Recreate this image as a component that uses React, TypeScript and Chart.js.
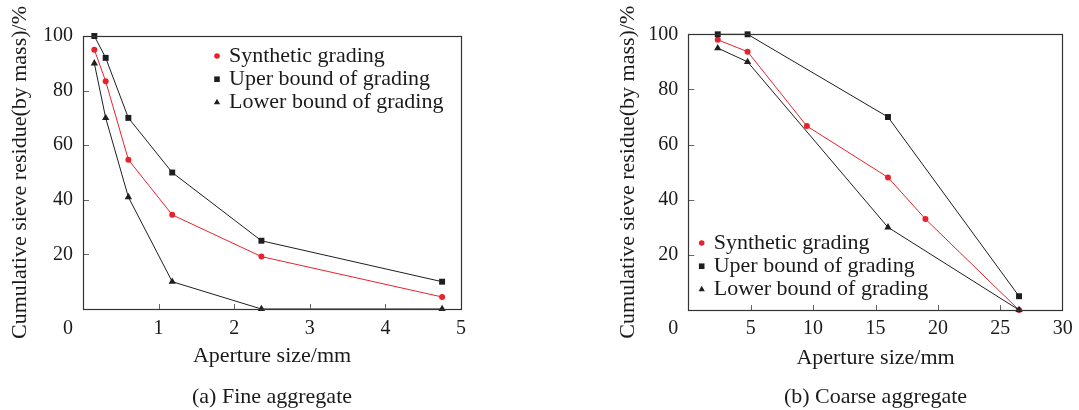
import React, { useEffect, useRef } from 'react';
import { Chart, registerables } from 'chart.js';

Chart.register(...registerables);

const FONT = '"Liberation Serif", "Times New Roman", Times, serif';
const RED = '#e8222c';
const BLACK = '#1e1e1e';
const TEXT = '#1a1a1a';

// ---- Fine aggregate ----
const fineSizes = [0.15, 0.3, 0.6, 1.18, 2.36, 4.75];
const fineSynthetic = [95, 83.4, 54.7, 34.5, 19.2, 4.4];
const fineUpper = [100, 92, 70, 50, 25, 10];
const fineLower = [90, 70, 41, 10, 0, 0];

// ---- Coarse aggregate ----
const coarseSyntheticSizes = [2.36, 4.75, 9.5, 16, 19, 26.5];
const coarseSynthetic = [98, 93.7, 66.7, 48.1, 33, 0];
const coarseBoundSizes = [2.36, 4.75, 16, 26.5];
const coarseUpper = [100, 100, 70, 5];
const coarseLower = [95, 90, 30, 0];

const legendLabels = ['Synthetic grading', 'Uper bound of grading', 'Lower bound of grading'];
const yTitle = 'Cumulative sieve residue(by mass)/%';
const xTitle = 'Aperture size/mm';

const pts = (xs: number[], ys: number[]) => xs.map((x, i) => ({ x, y: ys[i] }));

function drawShape(ctx: CanvasRenderingContext2D, style: string, x: number, y: number, r: number, color: string) {
  ctx.save();
  ctx.fillStyle = color;
  ctx.beginPath();
  if (style === 'circle') {
    ctx.arc(x, y, r, 0, Math.PI * 2);
  } else if (style === 'rect') {
    ctx.rect(x - r, y - r, 2 * r, 2 * r);
  } else {
    ctx.moveTo(x, y - r);
    ctx.lineTo(x + r * 0.866, y + r * 0.5);
    ctx.lineTo(x - r * 0.866, y + r * 0.5);
    ctx.closePath();
  }
  ctx.fill();
  ctx.restore();
}

const framePlugin = {
  id: 'frameDeco',
  afterDraw(chart: any, _args: any, opts: any) {
    const ctx: CanvasRenderingContext2D = chart.ctx;
    const { left, right, top, bottom } = chart.chartArea;
    const xs = chart.scales.x;
    const ys = chart.scales.y;
    ctx.save();
    // inward ticks
    ctx.strokeStyle = '#666';
    ctx.lineWidth = 1;
    ctx.beginPath();
    xs.ticks.forEach((t: any) => {
      if (t.value > xs.min && t.value < xs.max) {
        const px = Math.round(xs.getPixelForValue(t.value)) + 0.5;
        ctx.moveTo(px, bottom);
        ctx.lineTo(px, bottom - 5);
      }
    });
    ys.ticks.forEach((t: any) => {
      if (t.value > ys.min && t.value < ys.max) {
        const py = Math.round(ys.getPixelForValue(t.value)) + 0.5;
        ctx.moveTo(left, py);
        ctx.lineTo(left + 6, py);
      }
    });
    ctx.stroke();
    // frame
    ctx.strokeStyle = '#333';
    ctx.lineWidth = 1.2;
    ctx.strokeRect(Math.round(left) + 0.5, Math.round(top) + 0.5, Math.round(right - left), Math.round(bottom - top));
    // origin label
    ctx.fillStyle = TEXT;
    ctx.font = `20px ${FONT}`;
    ctx.textAlign = 'center';
    ctx.textBaseline = 'middle';
    ctx.fillText('0', left - 15, bottom + opts.zeroDy);
    // legend
    const styles = ['circle', 'rect', 'triangle'];
    const colors = [RED, BLACK, BLACK];
    const sizes = [2.8, 2.8, 3.6];
    ctx.font = `22px ${FONT}`;
    ctx.textAlign = 'left';
    styles.forEach((s, i) => {
      const mx = left + opts.lx;
      const my = top + opts.ly + i * 23.2;
      drawShape(ctx, s, mx, my, sizes[i], colors[i]);
      ctx.fillStyle = TEXT;
      ctx.fillText(legendLabels[i], mx + 12, my);
    });
    ctx.restore();
  },
};

function makeConfig(p: any) {
  const ds = (label: string, data: any[], color: string, style: string, radius: number) => ({
    label,
    data,
    showLine: true,
    borderColor: color,
    backgroundColor: color,
    borderWidth: 1,
    pointStyle: style,
    pointRadius: radius,
    pointBackgroundColor: color,
    pointBorderColor: color,
    pointBorderWidth: 0,
    clip: false,
    tension: 0,
  });
  return {
    type: 'scatter',
    data: {
      datasets: [
        ds(legendLabels[1], p.upper, BLACK, 'rect', 4.2),
        ds(legendLabels[2], p.lower, BLACK, 'triangle', 4.2),
        ds(legendLabels[0], p.synthetic, RED, 'circle', 3),
      ],
    },
    options: {
      responsive: false,
      animation: false,
      events: [],
      layout: { padding: { left: p.padLeft, right: p.padRight, top: p.padTop, bottom: 0 } },
      plugins: {
        legend: { display: false },
        tooltip: { enabled: false },
        title: {
          display: true,
          position: 'bottom',
          fullSize: false,
          text: p.caption,
          color: TEXT,
          font: { family: FONT, size: 22, weight: 'normal' },
          padding: 0,
        },
        frameDeco: { lx: p.lx, ly: p.ly, zeroDy: p.tickPad + 12 },
      },
      scales: {
        x: {
          type: 'linear',
          min: 0,
          max: p.xMax,
          ticks: {
            stepSize: p.xStep,
            color: TEXT,
            font: { family: FONT, size: 20 },
            padding: p.tickPad,
            maxRotation: 0,
            callback: (v: number) => (v === 0 ? '' : String(v)),
          },
          grid: { display: false, drawTicks: false, tickLength: 0 },
          border: { display: false },
          title: {
            display: true,
            text: xTitle,
            color: TEXT,
            font: { family: FONT, size: 22 },
            padding: { top: 0, bottom: p.xTitlePad },
          },
          afterFit: (s: any) => {
            s.height = p.xHeight;
          },
        },
        y: {
          type: 'linear',
          min: 0,
          max: 100,
          ticks: {
            stepSize: 20,
            color: TEXT,
            font: { family: FONT, size: 20 },
            padding: 10,
            callback: (v: number) => (v === 0 ? '' : String(v)),
          },
          grid: { display: false, drawTicks: false, tickLength: 0 },
          border: { display: false },
          title: {
            display: true,
            text: yTitle,
            color: TEXT,
            font: { family: FONT, size: 22 },
            padding: { top: p.yTitlePad, bottom: 0 },
          },
          afterFit: (s: any) => {
            s.width = 83;
          },
        },
      },
    },
    plugins: [framePlugin],
  };
}

function ChartCanvas({ cfg, left, width }: { cfg: any; left: number; width: number }) {
  const ref = useRef<HTMLCanvasElement | null>(null);
  useEffect(() => {
    if (!ref.current) return;
    const chart = new Chart(ref.current, cfg);
    return () => chart.destroy();
  }, [cfg]);
  return (
    <canvas
      ref={ref}
      width={width}
      height={410}
      style={{ position: 'absolute', left, top: 0, width, height: 410 }}
    />
  );
}

const fineCfg = makeConfig({
  upper: pts(fineSizes, fineUpper),
  lower: pts(fineSizes, fineLower),
  synthetic: pts(fineSizes, fineSynthetic),
  xMax: 5,
  xStep: 1,
  caption: '(a) Fine aggregate',
  padLeft: 0,
  padRight: 79,
  padTop: 36,
  xHeight: 74.6,
  xTitlePad: 13.7,
  tickPad: 7.3,
  yTitlePad: 6.8,
  lx: 134,
  ly: 20,
});

const coarseCfg = makeConfig({
  upper: pts(coarseBoundSizes, coarseUpper),
  lower: pts(coarseBoundSizes, coarseLower),
  synthetic: pts(coarseSyntheticSizes, coarseSynthetic),
  xMax: 30,
  xStep: 5,
  caption: '(b) Coarse aggregate',
  padLeft: 65.3,
  padRight: 13.3,
  padTop: 34.3,
  xHeight: 73.6,
  xTitlePad: 12.1,
  tickPad: 6.3,
  yTitlePad: 9.5,
  lx: 13.4,
  ly: 208.7,
});

export default function App() {
  return (
    <div style={{ position: 'absolute', left: 0, top: 0, width: 1079, height: 410, background: '#fff' }}>
      <ChartCanvas cfg={fineCfg} left={0} width={540} />
      <ChartCanvas cfg={coarseCfg} left={540} width={539} />
    </div>
  );
}
